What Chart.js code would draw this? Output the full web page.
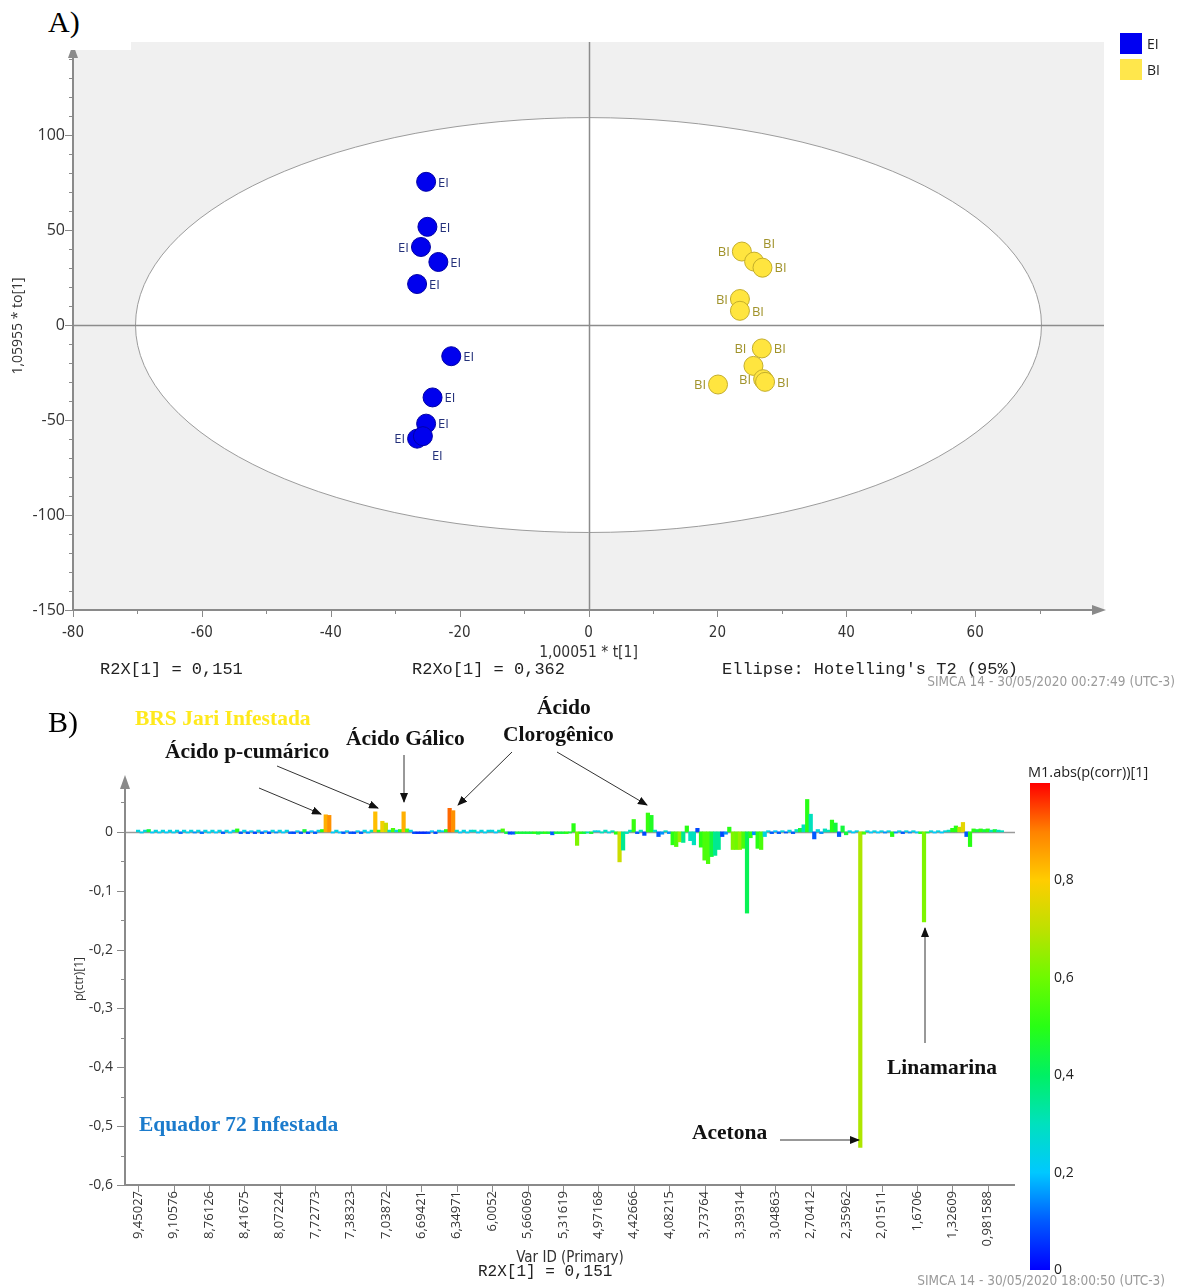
<!DOCTYPE html>
<html>
<head>
<meta charset="utf-8">
<script src="https://cdn.jsdelivr.net/npm/chart.js@4.4.1/dist/chart.umd.min.js"></script>
<style>
  body { margin: 0; background: #fff; width: 1186px; height: 1287px; position: relative; overflow: hidden; }
  canvas { position: absolute; }
  .t { position: absolute; white-space: nowrap; line-height: 1; transform: translateY(-50%); }
  .panel { font-family: 'Liberation Serif', serif; font-size: 30px; color: #000; }
  .note { font-family: 'Liberation Serif', serif; font-weight: bold; font-size: 21.5px; color: #111; }
  .mono { font-family: 'Liberation Mono', monospace; font-size: 17px; color: #222; }
  .stamp { font-family: 'DejaVu Sans Condensed', 'Liberation Sans Narrow', sans-serif; font-size: 13.5px; color: #9a9a9a; }
  .leg { position: absolute; width: 22px; height: 21px; }
  .legtxt { font-family: 'Open Sans', sans-serif; font-size: 14px; color: #222; }
  svg { position: absolute; left: 0; top: 0; }
</style>
</head>
<body>
<canvas id="scoreChart" width="1186" height="700" style="left:0;top:0"></canvas>
<canvas id="loadChart" width="1186" height="587" style="left:0;top:700px"></canvas>
<canvas id="corrBar" width="176" height="525" style="left:1010px;top:760px"></canvas>

<div style="position:absolute;left:0;top:0;width:131px;height:50px;background:#fff"></div>
<div class="t panel" style="left:48px;top:22px">A)</div>
<div class="t panel" style="left:48px;top:722px">B)</div>

<div class="leg" style="left:1120px;top:33px;background:#0000f2"></div>
<div class="t legtxt" style="left:1147px;top:44px">EI</div>
<div class="leg" style="left:1120px;top:59px;background:#ffe74c"></div>
<div class="t legtxt" style="left:1147px;top:70px">BI</div>

<div class="t mono" style="left:100px;top:669px">R2X[1] = 0,151</div>
<div class="t mono" style="left:412px;top:669px">R2Xo[1] = 0,362</div>
<div class="t mono" style="left:722px;top:669px">Ellipse: Hotelling's T2 (95%)</div>
<div class="t stamp" style="right:11px;top:682px">SIMCA 14 - 30/05/2020 00:27:49 (UTC-3)</div>

<div class="t note" style="left:135px;top:719px;color:#ffe91c">BRS Jari Infestada</div>
<div class="t note" style="left:165px;top:752px">Ácido p-cumárico</div>
<div class="t note" style="left:346px;top:739px">Ácido Gálico</div>
<div class="t note" style="left:537px;top:708px">Ácido</div>
<div class="t note" style="left:503px;top:735px">Clorogênico</div>
<div class="t note" style="left:887px;top:1068px">Linamarina</div>
<div class="t note" style="left:692px;top:1133px">Acetona</div>
<div class="t note" style="left:139px;top:1125px;color:#1b7bcc">Equador 72 Infestada</div>

<div class="t" style="left:1028px;top:772px;font-family:'Open Sans',sans-serif;font-size:14.5px;color:#222">M1.abs(p(corr))[1]</div>
<div class="t mono" style="left:478px;top:1272px;font-size:16px">R2X[1] = 0,151</div>
<div class="t stamp" style="right:21px;top:1281px">SIMCA 14 - 30/05/2020 18:00:50 (UTC-3)</div>

<svg width="1186" height="1287">
  <defs>
    <marker id="head" markerWidth="10" markerHeight="8" refX="9" refY="4" orient="auto" markerUnits="userSpaceOnUse">
      <path d="M0,0 L10,4 L0,8 z" fill="#111"/>
    </marker>
  </defs>
  <g stroke="#333" stroke-width="1" marker-end="url(#head)">
    <line x1="259" y1="788" x2="321" y2="814"/>
    <line x1="277" y1="766" x2="378" y2="808"/>
    <line x1="404" y1="755" x2="404" y2="802"/>
    <line x1="512" y1="752" x2="458" y2="805"/>
    <line x1="557" y1="752" x2="647" y2="805"/>
    <line x1="925" y1="1043" x2="925" y2="928"/>
    <line x1="780" y1="1140" x2="859" y2="1140"/>
  </g>
</svg>

<script>
// ---------- panel A: scores t[1] vs to[1] ----------
const eiT  = [-25.2, -25.0, -26.0, -23.3, -26.6, -21.3, -24.2, -25.2, -26.6, -25.7];
const eiTo = [75.4, 51.7, 41.1, 33.2, 21.6, -16.4, -38.1, -51.9, -59.8, -58.5];
const biT  = [23.8, 25.7, 27.0, 23.5, 23.5, 26.9, 25.6, 27.1, 27.4, 20.1];
const biTo = [38.7, 33.4, 30.2, 13.7, 7.5, -12.3, -21.5, -28.5, -29.9, -31.3];
const eiLabelSide = ['r', 'r', 'l', 'r', 'r', 'r', 'r', 'r', 'l', 'br'];
const biLabelSide = ['l', 'tr', 'r', 'l', 'r', 'r', 'tl', 'l', 'r', 'l'];
const ellipseT = 70.3, ellipseTo = 109.2;   // Hotelling T2 95% radii
const scoreXTicks = [-80, -60, -40, -20, 0, 20, 40, 60];
const scoreYTicks = [-150, -100, -50, 0, 50, 100];

// ---------- panel B: p(ctr)[1] per variable, coloured by abs(p(corr)) ----------
const ppmLabels = ['9,45027', '9,10576', '8,76126', '8,41675', '8,07224', '7,72773', '7,38323',
  '7,03872', '6,69421', '6,34971', '6,0052', '5,66069', '5,31619', '4,97168', '4,42666', '4,08215',
  '3,73764', '3,39314', '3,04863', '2,70412', '2,35962', '2,01511', '1,6706', '1,32609', '0,981588'];
const pctr = [
  0.003, -0.002, 0.003, 0.004, -0.002, 0.003, -0.002, 0.003, -0.002, 0.003,
  -0.002, 0.003, -0.003, 0.003, -0.002, 0.003, -0.002, 0.003, -0.003, 0.003,
  -0.002, 0.003, -0.002, 0.003, -0.003, 0.003, -0.002, 0.003, 0.005, -0.003,
  0.003, -0.003, 0.002, -0.003, 0.003, -0.003, 0.002, -0.003, 0.003, -0.002,
  0.003, -0.002, 0.003, -0.003, -0.003, 0.002, -0.003, 0.004, -0.003, 0.002,
  -0.003, 0.003, 0.004, 0.029, 0.028, -0.002, 0.003, -0.002, -0.003, 0.002,
  -0.003, -0.003, 0.002, -0.003, 0.003, -0.002, 0.003, 0.034, 0.003, 0.018,
  0.015, 0.003, 0.006, 0.003, 0.004, 0.034, 0.005, 0.003, -0.003, -0.003,
  -0.003, -0.003, -0.003, 0.002, -0.003, 0.003, 0.002, 0.004, 0.040, 0.036,
  0.003, -0.002, 0.003, -0.002, 0.003, 0.003, -0.002, 0.003, -0.002, 0.003,
  0.003, -0.002, 0.003, 0.005, -0.003, -0.004, -0.004, -0.003, -0.003, -0.003,
  -0.003, -0.003, -0.003, -0.004, -0.003, -0.003, -0.003, -0.005, -0.003, -0.003,
  -0.003, -0.003, -0.002, 0.014, -0.023, -0.003, -0.003, -0.002, -0.003, 0.002,
  0.002, -0.002, 0.003, -0.002, 0.002, -0.004, -0.051, -0.031, -0.003, 0.003,
  0.021, -0.003, 0.003, -0.006, 0.032, 0.028, 0.003, -0.008, -0.004, 0.002,
  -0.003, -0.022, -0.025, -0.017, -0.018, 0.010, -0.015, -0.022, 0.006, -0.026,
  -0.048, -0.054, -0.042, -0.040, -0.030, -0.008, -0.004, 0.008, -0.030, -0.030,
  -0.030, -0.028, -0.138, -0.010, -0.005, -0.028, -0.030, -0.008, 0.002, -0.003,
  0.002, -0.003, 0.002, -0.002, 0.003, -0.003, 0.004, 0.006, 0.012, 0.055,
  0.030, -0.012, 0.004, -0.003, 0.005, 0.003, 0.020, 0.015, -0.008, 0.010,
  -0.005, 0.002, -0.002, 0.002, -0.536, -0.004, 0.002, -0.002, 0.002, -0.002,
  0.002, -0.002, 0.002, -0.008, -0.002, 0.002, -0.003, 0.002, -0.002, 0.002,
  -0.002, -0.003, -0.153, -0.002, 0.002, -0.002, 0.002, -0.002, 0.002, 0.003,
  0.006, 0.010, 0.008, 0.016, -0.008, -0.025, 0.005, 0.004, 0.005, 0.004,
  0.005, 0.003, 0.004, 0.003, 0.002
];
const pcorr = [
  0.25, 0.22, 0.25, 0.45, 0.20, 0.25, 0.22, 0.25, 0.20, 0.25,
  0.22, 0.25, 0.12, 0.25, 0.22, 0.25, 0.15, 0.25, 0.12, 0.25,
  0.22, 0.25, 0.20, 0.25, 0.10, 0.25, 0.20, 0.25, 0.50, 0.10,
  0.25, 0.10, 0.22, 0.08, 0.25, 0.10, 0.20, 0.08, 0.25, 0.15,
  0.25, 0.20, 0.25, 0.10, 0.08, 0.22, 0.10, 0.45, 0.08, 0.20,
  0.10, 0.25, 0.50, 0.84, 0.88, 0.20, 0.25, 0.20, 0.10, 0.22,
  0.10, 0.08, 0.22, 0.10, 0.25, 0.20, 0.30, 0.82, 0.50, 0.78,
  0.72, 0.30, 0.55, 0.25, 0.50, 0.84, 0.55, 0.25, 0.08, 0.05,
  0.05, 0.05, 0.08, 0.20, 0.08, 0.25, 0.22, 0.50, 0.92, 0.88,
  0.30, 0.20, 0.25, 0.22, 0.25, 0.30, 0.20, 0.25, 0.22, 0.25,
  0.25, 0.20, 0.30, 0.55, 0.45, 0.08, 0.10, 0.45, 0.45, 0.45,
  0.45, 0.45, 0.50, 0.45, 0.45, 0.50, 0.45, 0.10, 0.45, 0.45,
  0.45, 0.50, 0.45, 0.50, 0.62, 0.50, 0.45, 0.30, 0.45, 0.25,
  0.25, 0.30, 0.30, 0.25, 0.30, 0.50, 0.72, 0.35, 0.30, 0.30,
  0.52, 0.10, 0.30, 0.08, 0.52, 0.48, 0.30, 0.10, 0.15, 0.30,
  0.15, 0.50, 0.55, 0.65, 0.35, 0.50, 0.30, 0.30, 0.08, 0.50,
  0.55, 0.55, 0.45, 0.35, 0.35, 0.08, 0.15, 0.50, 0.62, 0.60,
  0.65, 0.55, 0.42, 0.50, 0.15, 0.50, 0.55, 0.25, 0.25, 0.10,
  0.20, 0.10, 0.25, 0.10, 0.25, 0.10, 0.30, 0.45, 0.30, 0.50,
  0.30, 0.10, 0.25, 0.15, 0.30, 0.30, 0.50, 0.45, 0.10, 0.45,
  0.45, 0.25, 0.20, 0.25, 0.68, 0.55, 0.25, 0.20, 0.25, 0.20,
  0.25, 0.15, 0.25, 0.50, 0.15, 0.25, 0.10, 0.25, 0.15, 0.25,
  0.20, 0.50, 0.62, 0.45, 0.25, 0.20, 0.25, 0.20, 0.25, 0.30,
  0.50, 0.50, 0.70, 0.76, 0.10, 0.50, 0.50, 0.45, 0.50, 0.45,
  0.50, 0.30, 0.45, 0.30, 0.30
];
const pctrTicks = [0, -0.1, -0.2, -0.3, -0.4, -0.5, -0.6];
const corrTicks = [0, 0.2, 0.4, 0.6, 0.8];

// colour map used by SIMCA for abs(p(corr))
const corrStops = [
  [0, [0, 0, 255]], [0.1, [0, 90, 255]], [0.2, [0, 200, 255]], [0.3, [0, 225, 190]],
  [0.4, [0, 240, 100]], [0.5, [40, 255, 20]], [0.6, [110, 250, 0]], [0.7, [190, 225, 0]],
  [0.8, [255, 205, 0]], [0.9, [255, 130, 0]], [1, [255, 0, 0]]
];
function corrColor(v) {
  for (let k = 1; k < corrStops.length; k++) {
    if (v <= corrStops[k][0]) {
      const [a, ca] = corrStops[k - 1], [b, cb] = corrStops[k];
      const f = (v - a) / (b - a);
      const c = ca.map((q, j) => Math.round(q + (cb[j] - q) * f));
      return `rgb(${c[0]},${c[1]},${c[2]})`;
    }
  }
  return 'rgb(255,0,0)';
}

const sans = 'Open Sans';
const narrow = "'DejaVu Sans Condensed', 'Liberation Sans Narrow', sans-serif";
const axisGrey = '#8a8a8a';

// axis lines with arrow heads and major/minor tick marks
function drawAxes(chart, o) {
  const {ctx, chartArea: a, scales: {x, y}} = chart;
  ctx.save();
  ctx.strokeStyle = axisGrey;
  ctx.fillStyle = axisGrey;
  ctx.lineWidth = 2;
  ctx.beginPath();
  ctx.moveTo(a.left, a.bottom);
  ctx.lineTo(a.left, a.top + o.arrowTop + 6);
  ctx.moveTo(a.left, a.bottom);
  ctx.lineTo(o.xArrow ? a.right - 6 : a.right, a.bottom);
  ctx.stroke();
  ctx.beginPath();
  ctx.moveTo(a.left, a.top + o.arrowTop - 6);
  ctx.lineTo(a.left - 5, a.top + o.arrowTop + 8);
  ctx.lineTo(a.left + 5, a.top + o.arrowTop + 8);
  ctx.fill();
  if (o.xArrow) {
    ctx.beginPath();
    ctx.moveTo(a.right + 2, a.bottom);
    ctx.lineTo(a.right - 12, a.bottom - 5);
    ctx.lineTo(a.right - 12, a.bottom + 5);
    ctx.fill();
  }
  ctx.lineWidth = 1;
  ctx.beginPath();
  o.yTicks.forEach(([v, major]) => {
    const py = Math.round(y.getPixelForValue(v)) + 0.5;
    ctx.moveTo(a.left - (major ? 8 : 4), py);
    ctx.lineTo(a.left, py);
  });
  o.xTicks.forEach(([v, major]) => {
    const px = Math.round(x.getPixelForValue(v)) + 0.5;
    ctx.moveTo(px, a.bottom);
    ctx.lineTo(px, a.bottom + (major ? 7 : 4));
  });
  ctx.stroke();
  ctx.restore();
}

// ---------- chart A ----------
const scoreYMarks = [], scoreXMarks = [];
for (let v = -150; v < 150; v += 10) scoreYMarks.push([v, v % 50 === 0]);
for (let v = -80; v < 80; v += 10) scoreXMarks.push([v, v % 20 === 0]);

const scorePlot = {
  id: 'scorePlot',
  beforeDatasetsDraw(chart) {
    const {ctx, chartArea: a, scales: {x, y}} = chart;
    ctx.save();
    ctx.fillStyle = '#f0f0f0';
    ctx.fillRect(a.left, a.top, a.width, a.height);
    const cx = x.getPixelForValue(0), cy = y.getPixelForValue(0);
    const rx = x.getPixelForValue(ellipseT) - cx, ry = cy - y.getPixelForValue(ellipseTo);
    ctx.beginPath();
    ctx.ellipse(cx, cy, rx, ry, 0, 0, 2 * Math.PI);
    ctx.fillStyle = '#fff';
    ctx.fill();
    ctx.strokeStyle = '#9c9c9c';
    ctx.lineWidth = 1;
    ctx.stroke();
    ctx.strokeStyle = '#8c8c8c';
    ctx.lineWidth = 1.5;
    ctx.beginPath();
    ctx.moveTo(Math.round(cx) + 0.5, a.top);
    ctx.lineTo(Math.round(cx) + 0.5, a.bottom);
    ctx.moveTo(a.left, Math.round(cy) + 0.5);
    ctx.lineTo(a.right, Math.round(cy) + 0.5);
    ctx.stroke();
    ctx.restore();
  },
  afterDatasetsDraw(chart) {
    const {ctx} = chart;
    const sides = [eiLabelSide, biLabelSide];
    const colors = ['#23307a', '#a0922a'];
    const offs = {r: [12, 1, 'left'], l: [-12, 1, 'right'], br: [9, 20, 'left'], tr: [9, -17, 'left'], tl: [-7, -17, 'right']};
    ctx.save();
    ctx.font = `13px ${sans}`;
    ctx.textBaseline = 'middle';
    chart.data.datasets.forEach((ds, d) => {
      chart.getDatasetMeta(d).data.forEach((pt, i) => {
        const [dx, dy, al] = offs[sides[d][i]];
        ctx.fillStyle = colors[d];
        ctx.textAlign = al;
        ctx.fillText(ds.label, pt.x + dx, pt.y + dy);
      });
    });
    drawAxes(chart, {arrowTop: 8, xArrow: true, yTicks: scoreYMarks, xTicks: scoreXMarks});
    ctx.restore();
  }
};

new Chart(document.getElementById('scoreChart'), {
  type: 'scatter',
  data: {
    datasets: [
      {label: 'EI', data: eiT.map((t, i) => ({x: t, y: eiTo[i]})),
       backgroundColor: '#0000ee', borderColor: '#0000a6', borderWidth: 1, pointRadius: 9.5},
      {label: 'BI', data: biT.map((t, i) => ({x: t, y: biTo[i]})),
       backgroundColor: '#ffe53f', borderColor: '#c4ae2c', borderWidth: 1, pointRadius: 9.5}
    ]
  },
  options: {
    responsive: false, animation: false, devicePixelRatio: 1,
    layout: {padding: {top: 42, right: 82, left: 0, bottom: 0}},
    plugins: {legend: {display: false}, tooltip: {enabled: false}},
    scales: {
      x: {
        type: 'linear', min: -80, max: 80,
        afterBuildTicks: s => { s.ticks = scoreXTicks.map(v => ({value: v})); },
        afterFit: s => { s.height = 90; },
        grid: {display: false, drawTicks: false}, border: {display: false},
        ticks: {padding: 14, color: '#333', font: {family: narrow, size: 15}, callback: v => String(v)},
        title: {display: true, text: '1,00051 * t[1]', color: '#333', font: {family: narrow, size: 15.5}, padding: {top: 0, bottom: 37.5}}
      },
      y: {
        type: 'linear', min: -150, max: 149,
        afterBuildTicks: s => { s.ticks = scoreYTicks.map(v => ({value: v})); },
        afterFit: s => { s.width = 73; },
        grid: {display: false, drawTicks: false}, border: {display: false},
        ticks: {padding: 8, color: '#333', font: {family: sans, size: 16}, callback: v => String(v)},
        title: {display: true, text: '1,05955 * to[1]', color: '#333', font: {family: sans, size: 14}, padding: {top: 10, bottom: 0}}
      }
    }
  },
  plugins: [scorePlot]
});

// ---------- chart B ----------
const loadYMarks = [], loadXMarks = [];
for (let k = -12; k <= 1; k++) loadYMarks.push([k * 0.05, k % 2 === 0]);
ppmLabels.forEach((_, k) => loadXMarks.push([k * 10, true]));

const loadPlot = {
  id: 'loadPlot',
  beforeDatasetsDraw(chart) {
    const {ctx, chartArea: a, scales: {y}} = chart;
    const py = Math.round(y.getPixelForValue(0)) + 0.5;
    ctx.save();
    ctx.strokeStyle = '#9a9a9a';
    ctx.lineWidth = 1.5;
    ctx.beginPath();
    ctx.moveTo(a.left, py);
    ctx.lineTo(a.right, py);
    ctx.stroke();
    ctx.restore();
  },
  afterDraw(chart) {
    drawAxes(chart, {arrowTop: 8, xArrow: false, yTicks: loadYMarks, xTicks: loadXMarks});
  }
};

new Chart(document.getElementById('loadChart'), {
  type: 'bar',
  data: {
    datasets: [{
      data: pctr.map((v, i) => ({x: i, y: v})),
      backgroundColor: pcorr.map(corrColor),
      barPercentage: 1, categoryPercentage: 1, borderWidth: 0
    }]
  },
  options: {
    responsive: false, animation: false, devicePixelRatio: 1,
    layout: {padding: {top: 73, right: 171, left: 0, bottom: 0}},
    plugins: {legend: {display: false}, tooltip: {enabled: false}},
    scales: {
      x: {
        type: 'linear', min: -3.7, max: 247.7, offset: false,
        afterBuildTicks: s => { s.ticks = ppmLabels.map((_, k) => ({value: k * 10})); },
        afterFit: s => { s.height = 102; },
        grid: {display: false, drawTicks: false}, border: {display: false},
        ticks: {autoSkip: false, minRotation: 90, maxRotation: 90, padding: 6, color: '#333',
                font: {family: sans, size: 13}, callback: (v, k) => ppmLabels[k]},
        title: {display: true, text: 'Var ID (Primary)', color: '#333', font: {family: narrow, size: 15}, padding: {top: 0, bottom: 20}}
      },
      y: {
        type: 'linear', min: -0.6, max: 0.1,
        afterBuildTicks: s => { s.ticks = pctrTicks.map(v => ({value: v})); },
        afterFit: s => { s.width = 125; },
        grid: {display: false, drawTicks: false}, border: {display: false},
        ticks: {padding: 12, color: '#333', font: {family: sans, size: 14},
                callback: v => v === 0 ? '0' : v.toFixed(1).replace('.', ',')},
        title: {display: true, text: 'p(ctr)[1]', color: '#333', font: {family: sans, size: 12}, padding: {top: 72, bottom: 0}}
      }
    }
  },
  plugins: [loadPlot]
});

// ---------- colour scale ----------
new Chart(document.getElementById('corrBar'), {
  type: 'bar',
  data: {
    labels: [''],
    datasets: [{
      data: [[0, 1]],
      barPercentage: 1, categoryPercentage: 1, borderWidth: 0,
      backgroundColor: c => {
        const a = c.chart.chartArea;
        if (!a) return '#0f0';
        const g = c.chart.ctx.createLinearGradient(0, a.bottom, 0, a.top);
        corrStops.forEach(([s, col]) => g.addColorStop(s, `rgb(${col.join(',')})`));
        return g;
      }
    }]
  },
  options: {
    responsive: false, animation: false, devicePixelRatio: 1,
    layout: {padding: {top: 23, left: 20, bottom: 15, right: 0}},
    plugins: {legend: {display: false}, tooltip: {enabled: false}},
    scales: {
      x: {display: false},
      y: {
        position: 'right', min: 0, max: 1,
        afterBuildTicks: s => { s.ticks = corrTicks.map(v => ({value: v})); },
        afterFit: s => { s.width = 136; },
        grid: {display: false, drawTicks: false}, border: {display: false},
        ticks: {padding: 4, color: '#222', font: {family: sans, size: 14},
                callback: v => v === 0 ? '0' : v.toFixed(1).replace('.', ',')}
      }
    }
  }
});
</script>
</body>
</html>
